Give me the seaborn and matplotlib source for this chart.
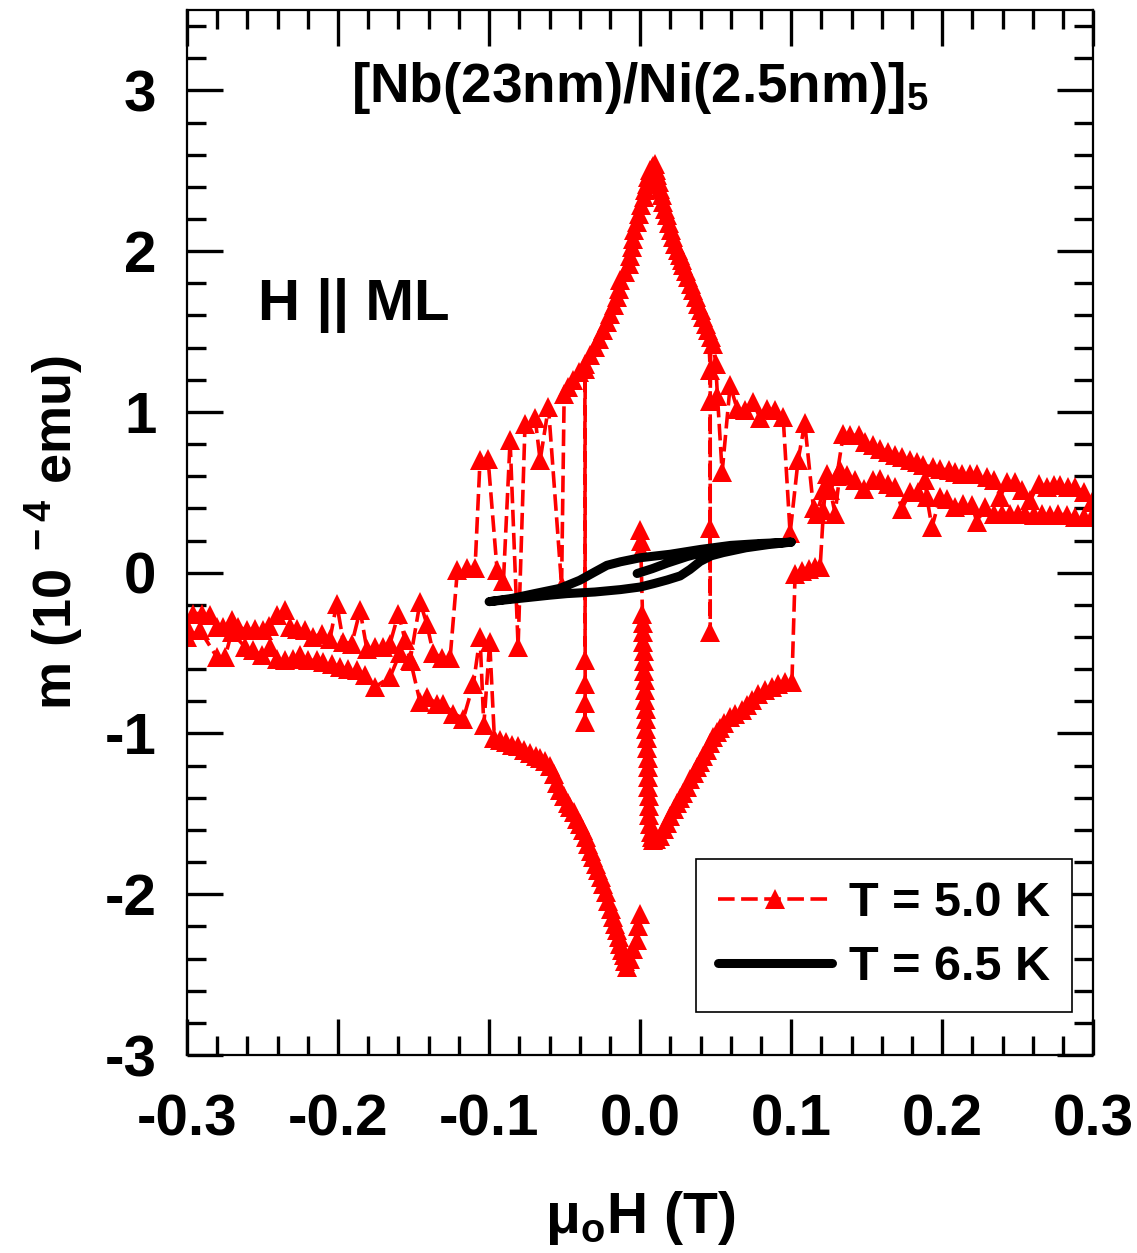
import matplotlib
matplotlib.use("Agg")
import matplotlib.pyplot as plt
from matplotlib.lines import Line2D
from matplotlib.ticker import MultipleLocator
import seaborn as sns

# ---------------- data ----------------
# T = 5.0 K, sweep from zero field up to +0.3 T
h_b = [0.0, 0.0003, 0.0005,
       0.0015, 0.0017, 0.0019, 0.0021, 0.0023, 0.0026, 0.0028, 0.003, 0.0033, 0.0035,
       0.0037, 0.004, 0.0042, 0.0044, 0.0046, 0.0049, 0.0051, 0.0053, 0.0055, 0.0058,
       0.006, 0.0062, 0.0065, 0.0069, 0.0076, 0.0086,
       0.0108, 0.0132, 0.0155, 0.0177, 0.0199, 0.0221, 0.0243, 0.0265, 0.0287, 0.031,
       0.0333, 0.0355, 0.0376, 0.0397, 0.0419, 0.0441, 0.0463, 0.0485, 0.0508, 0.053,
       0.0555, 0.0596, 0.0629, 0.0673, 0.0706, 0.074, 0.0783, 0.0828, 0.0872, 0.0916,
       0.096, 0.1005,
       0.1026, 0.107, 0.1115, 0.1159, 0.1192, 0.1214, 0.1236, 0.1291,
       0.1325, 0.1369, 0.1424, 0.1479, 0.1545, 0.159, 0.1644, 0.1689, 0.1733, 0.1788,
       0.1843, 0.1887, 0.1898, 0.1932, 0.1987, 0.2031, 0.2086, 0.2141, 0.2197, 0.223,
       0.2285, 0.234, 0.2395, 0.245, 0.2505, 0.255, 0.2605, 0.266, 0.2715, 0.277,
       0.2826, 0.2881, 0.2936, 0.2991]
m_b = [0.264, 0.20, 0.135,
       -0.254, -0.31, -0.37, -0.43, -0.49, -0.55, -0.61, -0.67, -0.73, -0.79,
       -0.85, -0.91, -0.97, -1.03, -1.09, -1.15, -1.21, -1.27, -1.33, -1.39,
       -1.45, -1.51, -1.56, -1.61, -1.645, -1.664,
       -1.655, -1.635, -1.595, -1.555, -1.515, -1.47, -1.43, -1.40, -1.37, -1.33,
       -1.285, -1.245, -1.21, -1.18, -1.14, -1.10, -1.06, -1.02, -0.99, -0.965,
       -0.935, -0.897, -0.876, -0.856, -0.825, -0.793, -0.752, -0.731, -0.71, -0.69,
       -0.68, -0.68,
       -0.01, 0.012, 0.025, 0.036, 0.036, 0.388, 0.616, 0.368,
       0.637, 0.606, 0.575, 0.523, 0.575, 0.585, 0.554, 0.533, 0.398, 0.502,
       0.502, 0.575, 0.471, 0.284, 0.471, 0.461, 0.409, 0.43, 0.419, 0.316,
       0.409, 0.368, 0.368, 0.368, 0.368, 0.368, 0.357, 0.368, 0.357, 0.368,
       0.357, 0.347, 0.347, 0.347]

# T = 5.0 K, sweep from +0.3 T down to -0.3 T
h_c = [0.2991, 0.2936, 0.2881, 0.2836, 0.2781, 0.2737, 0.2693, 0.2638, 0.2583, 0.2528,
       0.2483, 0.2428, 0.2384, 0.234, 0.2296, 0.223, 0.2185, 0.213, 0.2086, 0.2042,
       0.1987, 0.1942, 0.1876, 0.1832, 0.1788, 0.1733, 0.1689, 0.1644, 0.159, 0.1545,
       0.149, 0.1446, 0.1391, 0.1346,
       0.1302, 0.1258, 0.1214, 0.117, 0.1148, 0.109, 0.1046, 0.0993, 0.0947,
       0.0894, 0.0841, 0.0795, 0.0748, 0.0695, 0.0642, 0.0596, 0.0543, 0.0512, 0.05,
       0.0485, 0.0468, 0.0464, 0.0464, 0.0464, 0.0464,
       0.0452, 0.0436, 0.0419, 0.0402, 0.0386, 0.037, 0.0353, 0.0337, 0.032, 0.0303,
       0.0287, 0.0276, 0.0265, 0.0248, 0.0232, 0.0218, 0.0203, 0.019, 0.0177, 0.0165,
       0.0154, 0.0143, 0.0132, 0.0123, 0.0115, 0.0107, 0.0099,
       0.0088, 0.0077, 0.0066, 0.0055, 0.0044, 0.0034, 0.0024, 0.0009, -0.0007, -0.0023,
       -0.004, -0.0048, -0.0055, -0.0064, -0.0073, -0.0102, -0.0132, -0.0143, -0.0154,
       -0.0176, -0.0199, -0.0221, -0.0243, -0.027, -0.0298, -0.0331, -0.0364,
       -0.0364, -0.0364, -0.0364, -0.0364, -0.0366,
       -0.0405, -0.0446, -0.0475, -0.0503,
       -0.052, -0.0607, -0.0662, -0.0695, -0.0762, -0.0808, -0.0861, -0.0905, -0.0947,
       -0.1007, -0.106, -0.1093, -0.1146, -0.121, -0.1258, -0.131, -0.137, -0.1413,
       -0.1457,
       -0.1523, -0.1556, -0.16, -0.1656, -0.17, -0.1755, -0.181, -0.1854, -0.1909,
       -0.1965, -0.2009, -0.2053, -0.2108, -0.2164, -0.2219, -0.2274, -0.2318, -0.2351,
       -0.2406, -0.2455, -0.2495, -0.255, -0.2605, -0.266, -0.2704, -0.276, -0.2803,
       -0.2848, -0.2903, -0.2958, -0.3]
m_c = [0.44, 0.50, 0.535, 0.533, 0.543, 0.543, 0.533, 0.554, 0.45, 0.512,
       0.564, 0.564, 0.47, 0.575, 0.595, 0.616, 0.616, 0.616, 0.625, 0.637,
       0.647, 0.657, 0.668, 0.689, 0.699, 0.72, 0.73, 0.751, 0.772, 0.792,
       0.813, 0.855, 0.855, 0.865,
       0.60, 0.512, 0.512, 0.368, 0.40, 0.93, 0.70, 0.245, 0.967,
       1.01, 1.02, 0.96, 1.06, 1.01, 1.02, 1.165, 0.625, 1.10, 1.30,
       1.425, 1.467, 1.07, 0.28, -0.37, 1.26,
       1.507, 1.548, 1.59, 1.632, 1.673, 1.715, 1.756, 1.797, 1.839, 1.875,
       1.912, 1.943, 1.974, 2.01, 2.047, 2.088, 2.129, 2.176, 2.223, 2.264,
       2.305, 2.347, 2.389, 2.43, 2.471, 2.508, 2.544,
       2.53, 2.515, 2.502, 2.46, 2.42, 2.378, 2.336, 2.285, 2.233, 2.18,
       2.129, 2.077, 2.025, 1.973, 1.922, 1.87, 1.818, 1.767, 1.715,
       1.663, 1.611, 1.559, 1.507, 1.455, 1.404, 1.352, 1.30,
       -0.545, -0.69, -0.81, -0.93, 1.27,
       1.249, 1.197, 1.155, 1.114,
       -0.08, 1.03, 0.70, 0.96, 0.927, -0.46, 0.823, -0.05, 0.015,
       0.71, 0.70, 0.03, 0.027, 0.015, -0.53, -0.53, -0.50, -0.317,
       -0.182,
       -0.545, -0.42, -0.254, -0.441, -0.462, -0.462, -0.472, -0.234, -0.441,
       -0.431, -0.192, -0.41, -0.379, -0.40, -0.358, -0.348, -0.337, -0.234,
       -0.265, -0.33, -0.358, -0.348, -0.358, -0.337, -0.296, -0.337, -0.337,
       -0.265, -0.254, -0.254, -0.337]

# T = 5.0 K, sweep from -0.3 T back up to zero
h_a = [-0.3, -0.2914, -0.2803, -0.2748, -0.2704, -0.2616, -0.2561, -0.2505, -0.245,
       -0.2406, -0.2351, -0.2296, -0.2252, -0.2197, -0.2141, -0.2097, -0.2042, -0.1987,
       -0.1932, -0.1876, -0.1821, -0.1755, -0.1656, -0.159, -0.152, -0.1457, -0.1413,
       -0.1346, -0.1303, -0.1236, -0.117, -0.1104, -0.106, -0.1035, -0.0996,
       -0.0965, -0.093, -0.089, -0.085, -0.081, -0.077, -0.073, -0.069, -0.066, -0.063,
       -0.0596, -0.057, -0.0552, -0.053, -0.0505, -0.048, -0.0464, -0.0441, -0.042,
       -0.0398, -0.0375, -0.0358, -0.0342, -0.0326, -0.031, -0.0293, -0.0276, -0.026,
       -0.0243, -0.0226, -0.021, -0.0193, -0.0177, -0.0165, -0.0155, -0.0143, -0.0132,
       -0.0121, -0.011, -0.0099, -0.0088, -0.0066, -0.0044, -0.0022, -0.0011, 0.0]
m_a = [-0.40, -0.358, -0.524, -0.524, -0.37, -0.462, -0.483, -0.514, -0.462,
       -0.535, -0.545, -0.535, -0.514, -0.545, -0.545, -0.555, -0.565, -0.586,
       -0.597, -0.607, -0.638, -0.711, -0.649, -0.50, -0.55, -0.804, -0.773,
       -0.814, -0.814, -0.876, -0.907, -0.69, -0.40, -0.95, -0.43,
       -1.03, -1.04, -1.05, -1.07, -1.08, -1.10, -1.12, -1.14, -1.15, -1.17,
       -1.20, -1.25, -1.31, -1.35, -1.39, -1.43, -1.457, -1.49, -1.53,
       -1.565, -1.60, -1.645, -1.69, -1.728, -1.768, -1.81, -1.85, -1.89,
       -1.934, -1.985, -2.04, -2.09, -2.141, -2.185, -2.225, -2.265, -2.307,
       -2.345, -2.38, -2.415, -2.452, -2.40, -2.34, -2.286, -2.20, -2.12]

# T = 6.5 K loop (virgin, down, up)
h_65 = [-0.002, 0.008, 0.018, 0.031, 0.045, 0.06, 0.08, 0.1,
        0.08, 0.06, 0.04, 0.02, 0.0, -0.013, -0.022, -0.03, -0.04, -0.053, -0.07,
        -0.085, -0.1,
        -0.08, -0.06, -0.0485, -0.03, -0.013, 0.0, 0.009, 0.018, 0.0265, 0.033,
        0.0397, 0.047, 0.055, 0.07, 0.085, 0.1]
m_65 = [-0.005, 0.025, 0.06, 0.10, 0.135, 0.158, 0.178, 0.19,
        0.182, 0.17, 0.145, 0.115, 0.093, 0.068, 0.046, 0.005, -0.047, -0.097, -0.13,
        -0.16, -0.18,
        -0.16, -0.14, -0.13, -0.12, -0.105, -0.089, -0.068, -0.045, -0.02, 0.02,
        0.07, 0.105, 0.125, 0.155, 0.175, 0.19]

labels = ["T = 5.0 K", "T = 6.5 K"]
x_ticks = [-0.3, -0.2, -0.1, 0.0, 0.1, 0.2, 0.3]
y_ticks = [-3, -2, -1, 0, 1, 2, 3]

# ---------------- style ----------------
sns.set_style("white")
plt.rcParams["font.family"] = ["Liberation Sans", "DejaVu Sans"]
plt.rcParams["font.weight"] = "bold"
plt.rcParams["axes.unicode_minus"] = False
plt.rcParams["mathtext.fontset"] = "custom"
plt.rcParams["mathtext.rm"] = "Liberation Sans:bold"
plt.rcParams["mathtext.it"] = "Liberation Sans:bold"
plt.rcParams["mathtext.bf"] = "Liberation Sans:bold"
for key in ["text.color", "axes.labelcolor", "xtick.color", "ytick.color",
            "axes.edgecolor"]:
    plt.rcParams[key] = "black"

FS = 42
dash = (0, (4.6, 1.8))
RED_LW = 2.6
MS = 14

fig = plt.figure(figsize=(11.37, 12.53), dpi=100)
ax = fig.add_axes([0.1645, 0.158, 0.797, 0.834])

# 5.0 K curve: one continuous measurement
h_5 = h_b + h_c + h_a
m_5 = m_b + m_c + m_a
sns.lineplot(x=h_5, y=m_5, sort=False, estimator=None, ax=ax,
             color="red", lw=RED_LW, linestyle=dash, marker="^", markersize=MS,
             markeredgecolor="red", markeredgewidth=0, zorder=2)

# 6.5 K curve
sns.lineplot(x=h_65, y=m_65, sort=False, estimator=None, ax=ax,
             color="black", lw=6.5, solid_capstyle="round", solid_joinstyle="round",
             zorder=3)

ax.set_xlim(-0.3, 0.3)
ax.set_ylim(-3, 3.5)
ax.set_xticks(x_ticks)
ax.set_xticklabels([f"{v:.1f}" for v in x_ticks])
ax.set_yticks(y_ticks)
ax.set_yticklabels([str(v) for v in y_ticks])
ax.xaxis.set_minor_locator(MultipleLocator(0.02))
ax.yaxis.set_minor_locator(MultipleLocator(0.2))
ax.tick_params(which="both", direction="in", top=True, bottom=True,
               left=True, right=True, width=2.4, color="black",
               labelsize=FS, labelcolor="black")
ax.tick_params(which="major", length=26)
ax.tick_params(which="minor", length=14)
ax.tick_params(axis="x", pad=28)
ax.tick_params(axis="y", pad=22)
for s in ax.spines.values():
    s.set_linewidth(1.6)
    s.set_color("black")

ax.set_xlabel("\u03bc$_\\mathrm{o}$H (T)", fontsize=41, fontweight="bold")
ax.set_ylabel("m (10$^{\\ -4}$ emu)", fontsize=39, fontweight="bold")
ax.xaxis.set_label_coords(0.5, -0.128)
ax.yaxis.set_label_coords(-0.112, 0.5)

ax.text(0.5, 0.912, "[Nb(23nm)/Ni(2.5nm)]$_5$", transform=ax.transAxes,
        ha="center", va="baseline", fontsize=39.5, fontweight="bold")
ax.text(0.078, 0.703, "H || ML", transform=ax.transAxes,
        ha="left", va="baseline", fontsize=42, fontweight="bold")

handles = [Line2D([], [], color="red", lw=RED_LW, linestyle=dash, marker="^",
                  markersize=MS, markeredgewidth=0),
           Line2D([], [], color="black", lw=6.5, solid_capstyle="round")]
leg = ax.legend(handles, labels, loc="lower right", bbox_to_anchor=(0.977, 0.041),
                borderaxespad=0, fancybox=False, framealpha=1, edgecolor="black",
                numpoints=1, handlelength=2.35, handletextpad=0.35, borderpad=0.45,
                labelspacing=0.4, prop={"size": 35, "weight": "bold"})
leg.get_frame().set_linewidth(1.2)

fig.savefig("out.png", dpi=100)
